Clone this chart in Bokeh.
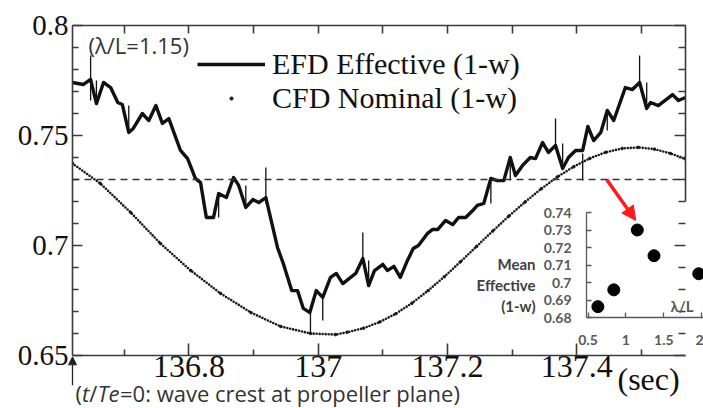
from bokeh.plotting import figure
from bokeh.models import (Range1d, LinearAxis, FixedTicker, Span, Label, Arrow,
                          NormalHead, Legend, LegendItem)
from bokeh.embed import file_html
from bokeh.resources import INLINE

# ---------------- data ----------------
# EFD effective wake fraction (1-w), time in seconds
efd_t = [136.620, 136.637, 136.648, 136.657, 136.668, 136.679, 136.690, 136.697,
         136.707, 136.714, 136.728, 136.738, 136.749, 136.759, 136.769, 136.787,
         136.798, 136.810, 136.818, 136.827, 136.838, 136.846, 136.858, 136.869,
         136.877, 136.888, 136.899, 136.908, 136.919, 136.937, 136.946, 136.959,
         136.968, 136.977, 136.987, 136.997, 137.007, 137.019, 137.028, 137.038,
         137.058, 137.069, 137.078, 137.087, 137.100, 137.107, 137.117, 137.127,
         137.138, 137.147, 137.155, 137.169, 137.177, 137.185, 137.197, 137.208,
         137.217, 137.228, 137.239, 137.246, 137.256, 137.267, 137.277, 137.287,
         137.297, 137.305, 137.316, 137.328, 137.336, 137.347, 137.356, 137.367,
         137.378, 137.387, 137.398, 137.409, 137.417, 137.426, 137.437, 137.447,
         137.457, 137.475, 137.486, 137.497, 137.508, 137.514, 137.526, 137.548,
         137.557, 137.568]
efd_w = [0.7741, 0.7732, 0.7755, 0.7645, 0.7741, 0.7718, 0.7650, 0.7641,
         0.7514, 0.7532, 0.7600, 0.7568, 0.7636, 0.7555, 0.7577, 0.7432,
         0.7395, 0.7305, 0.7286, 0.7127, 0.7127, 0.7236, 0.7218, 0.7309,
         0.7273, 0.7173, 0.7209, 0.7195, 0.7218, 0.6991, 0.6918, 0.6795,
         0.6795, 0.6714, 0.6695, 0.6795, 0.6764, 0.6855, 0.6873, 0.6827,
         0.6873, 0.6941, 0.6818, 0.6886, 0.6914, 0.6886, 0.6905, 0.6855,
         0.6932, 0.6986, 0.7000, 0.7055, 0.7073, 0.7073, 0.7114, 0.7095,
         0.7127, 0.7127, 0.7159, 0.7182, 0.7191, 0.7305, 0.7295, 0.7295,
         0.7400, 0.7318, 0.7364, 0.7400, 0.7395, 0.7468, 0.7423, 0.7455,
         0.7350, 0.7400, 0.7432, 0.7432, 0.7541, 0.7477, 0.7514, 0.7614,
         0.7568, 0.7718, 0.7709, 0.7741, 0.7623, 0.7650, 0.7636, 0.7686,
         0.7659, 0.7673]

# short spikes in the measured signal
spike_t = [136.648, 136.657, 136.707, 136.846, 136.888, 136.919, 136.988, 137.007,
           137.069, 137.078, 137.267, 137.297, 137.367, 137.378, 137.409, 137.447,
           137.497, 137.508]
spike_lo = [0.7659, 0.7645, 0.7514, 0.7127, 0.7173, 0.7191, 0.6600, 0.6659,
            0.6941, 0.6818, 0.7191, 0.7295, 0.7455, 0.7350, 0.7295, 0.7523,
            0.7741, 0.7623]
spike_hi = [0.7864, 0.7750, 0.7636, 0.7236, 0.7273, 0.7355, 0.6695, 0.6764,
            0.7059, 0.6932, 0.7305, 0.7400, 0.7577, 0.7464, 0.7418, 0.7614,
            0.7864, 0.7741]

# CFD nominal wake fraction (1-w)
cfd_t = [136.620, 136.663, 136.710, 136.756, 136.803, 136.849, 136.896, 136.942,
         136.988, 137.027, 137.045, 137.070, 137.095, 137.120, 137.145, 137.170,
         137.195, 137.220, 137.245, 137.270, 137.295, 137.320, 137.345, 137.370,
         137.395, 137.420, 137.445, 137.470, 137.495, 137.520, 137.545, 137.568]
cfd_w = [0.7373, 0.7282, 0.7150, 0.7009, 0.6886, 0.6782, 0.6695, 0.6632,
         0.6600, 0.6595, 0.6606, 0.6624, 0.6652, 0.6690, 0.6738, 0.6795,
         0.6858, 0.6926, 0.6996, 0.7066, 0.7134, 0.7198, 0.7258, 0.7312,
         0.7358, 0.7396, 0.7424, 0.7441, 0.7446, 0.7438, 0.7418, 0.7393]

# mean effective (1-w) at lambda/L = 1.15
mean_level = 0.73

# inset: mean effective (1-w) against wave length ratio
wave_ratio = [0.63, 0.84, 1.15, 1.37, 1.96]
mean_eff = [0.6862, 0.6958, 0.7300, 0.7153, 0.7050]

x_ticks = [136.8, 137.0, 137.2, 137.4]
x_tick_labels = ["136.8", "137", "137.2", "137.4"]
x_minor = [136.7, 136.9, 137.1, 137.3, 137.5]
y_ticks = [0.65, 0.70, 0.75, 0.80]
y_tick_labels = ["0.65", "0.7", "0.75", "0.8"]
y_minor = [0.66, 0.67, 0.68, 0.69, 0.71, 0.72, 0.73, 0.74, 0.76, 0.77, 0.78, 0.79]

inset_x_ticks = [0.5, 1.0, 1.5, 2.0]
inset_x_labels = ["0.5", "1", "1.5", "2"]
inset_y_ticks = [0.68, 0.69, 0.70, 0.71, 0.72, 0.73, 0.74]
inset_y_labels = ["0.68", "0.69", "0.7", "0.71", "0.72", "0.73", "0.74"]

AXIS = "#3a3a3a"
INK = "#111111"
GREY = "#595959"
SERIF = "Liberation Serif"
SANS = "Open Sans"

W, H = 703, 408
LEFT, RIGHT, TOP, BOTTOM = 72, 18, 25, 53
T0, T1 = 136.62, 137.568
V0, V1 = 0.65, 0.80


def style_axis(ax, major_in, minor_in, color=AXIS, width=1.6):
    ax.axis_line_color = color
    ax.axis_line_width = width
    ax.major_tick_line_color = color
    ax.minor_tick_line_color = color
    ax.major_tick_line_width = width
    ax.minor_tick_line_width = width
    ax.major_tick_in = major_in
    ax.major_tick_out = 0
    ax.minor_tick_in = minor_in
    ax.minor_tick_out = 0


def hide_labels(ax):
    # tick marks only, no tick labels drawn
    ax.major_label_text_font_size = "0px"
    ax.major_label_text_color = None
    ax.major_label_standoff = 0


def pin(fig, left, top):
    fig.styles = {"position": "absolute", "left": f"{left}px", "top": f"{top}px"}


# ---------------- main chart ----------------
p = figure(width=W, height=H, title=None,
           x_range=Range1d(T0, T1), y_range=Range1d(V0, V1),
           x_axis_location=None, y_axis_location=None,
           min_border_left=LEFT, min_border_right=RIGHT,
           min_border_top=TOP, min_border_bottom=BOTTOM,
           output_backend="svg", toolbar_location=None)
p.outline_line_color = None
p.grid.visible = False
p.background_fill_color = "white"
p.border_fill_color = "white"

xb = LinearAxis(ticker=FixedTicker(ticks=x_ticks, minor_ticks=x_minor))
xb.major_label_overrides = dict(zip(x_ticks, x_tick_labels))
xb.major_label_text_font = SERIF
xb.major_label_text_font_size = "32px"
xb.major_label_text_color = INK
xb.major_label_standoff = 0
style_axis(xb, 12, 6)
p.add_layout(xb, "below")

xt = LinearAxis(ticker=FixedTicker(ticks=x_ticks, minor_ticks=x_minor))
hide_labels(xt)
style_axis(xt, 8, 8)
p.add_layout(xt, "above")

yl = LinearAxis(ticker=FixedTicker(ticks=y_ticks, minor_ticks=y_minor))
yl.major_label_overrides = dict(zip(y_ticks, y_tick_labels))
yl.major_label_text_font = SERIF
yl.major_label_text_font_size = "29px"
yl.major_label_text_color = INK
yl.major_label_standoff = 4
style_axis(yl, 10, 6)
p.add_layout(yl, "left")

yr = LinearAxis(ticker=FixedTicker(ticks=y_ticks, minor_ticks=y_minor), bounds=(0.72, V1))
hide_labels(yr)
style_axis(yr, 11, 7)
p.add_layout(yr, "right")

# reference level of the mean effective wake
p.add_layout(Span(location=mean_level, dimension="width", line_color="#333333",
                  line_width=1.5, line_dash="7 5"))

cfd_line = p.line(cfd_t, cfd_w, line_color="#1a1a1a", line_width=2.6,
                  line_dash="0 3", line_cap="round")
cfd_pts = p.scatter(cfd_t, cfd_w, size=2.6, color="#1a1a1a")
p.segment(x0=spike_t, y0=spike_lo, x1=spike_t, y1=spike_hi,
          line_color=INK, line_width=1.3)
efd = p.line(efd_t, efd_w, line_color=INK, line_width=3.4, line_join="round")

legend = Legend(items=[LegendItem(label="EFD Effective (1-w)", renderers=[efd]),
                       LegendItem(label="CFD Nominal (1-w)", renderers=[cfd_pts])],
                location=(125, 240), glyph_width=68, glyph_height=8, label_standoff=7,
                spacing=0, padding=0, margin=0, border_line_color=None,
                background_fill_alpha=0, label_text_font=SERIF,
                label_text_font_size="30px", label_text_color=INK)
p.add_layout(legend)

p.add_layout(Label(x=16, y=311, x_units="screen", y_units="screen", text="(λ/L=1.15)",
                   text_font=SANS, text_font_size="22px", text_color="#333333",
                   text_baseline="middle"))

# red pointer from the mean level to the matching inset point
p.add_layout(Arrow(end=NormalHead(size=14, fill_color="#ff1a1a", line_color="#ff1a1a"),
                   x_start=137.446, y_start=mean_level, x_end=137.491, y_end=0.7114,
                   line_color="#ff1a1a", line_width=3.5))

# ---------------- overlay for texts around the frame ----------------
# same data mapping as the main chart, but the frame spans the whole canvas
px_per_t = (W - LEFT - RIGHT) / (T1 - T0)
px_per_v = (H - TOP - BOTTOM) / (V1 - V0)
ann = figure(width=W, height=H, title=None, min_border=0,
             x_range=Range1d(T0 - LEFT / px_per_t, T1 + RIGHT / px_per_t),
             y_range=Range1d(V0 - BOTTOM / px_per_v, V1 + TOP / px_per_v),
             x_axis_location=None, y_axis_location=None,
             output_backend="svg", toolbar_location=None)
ann.background_fill_color = None
ann.border_fill_color = None
ann.outline_line_color = None
ann.grid.visible = False

# origin marker t/Te = 0
ann.add_layout(Arrow(end=NormalHead(size=8, fill_color="#222222", line_color="#222222"),
                     x_start=T0, y_start=0.6365, x_end=T0, y_end=0.6494,
                     line_color="#222222", line_width=1.3))

caption = [("(", 75, "normal"), ("t", 81.5, "italic"), ("/", 88.8, "normal"),
           ("Te", 97, "italic"), ("=0: wave crest at propeller plane)", 119.5, "normal")]
for txt, cx, st in caption:
    ann.add_layout(Label(x=cx, y=16, x_units="screen", y_units="screen", text=txt,
                         text_font=SANS, text_font_size="22px", text_font_style=st,
                         text_color="#333333", text_baseline="middle"))

ann.add_layout(Label(x=617, y=30, x_units="screen", y_units="screen", text="(sec)",
                     text_font=SERIF, text_font_size="32px", text_color=INK,
                     text_baseline="alphabetic"))

for txt, cy in [("Mean", 145), ("Effective", 124), ("(1-w)", 103)]:
    ann.add_layout(Label(x=535, y=cy, x_units="screen", y_units="screen", text=txt,
                         text_font="Lato", text_font_style="bold", text_font_size="15px",
                         text_color="#404040", text_align="right", text_baseline="middle"))

# ---------------- inset ----------------
q = figure(frame_width=117, frame_height=105, title=None,
           x_range=Range1d(0.48, 2.023), y_range=Range1d(0.68, 0.74),
           x_axis_location=None, y_axis_location=None,
           min_border_left=116, min_border_right=0, min_border_top=17, min_border_bottom=38,
           output_backend="svg", toolbar_location=None)
q.background_fill_color = None
q.border_fill_color = None
q.outline_line_color = None
q.grid.visible = False

qx = LinearAxis(ticker=FixedTicker(ticks=inset_x_ticks, minor_ticks=[]))
qx.major_label_overrides = dict(zip(inset_x_ticks, inset_x_labels))
qx.major_label_text_font = "Lato"
qx.major_label_text_font_style = "bold"
qx.major_label_text_font_size = "14px"
qx.major_label_text_color = GREY
qx.major_label_standoff = 17
style_axis(qx, 5, 0, color=GREY, width=1.3)
q.add_layout(qx, "below")

qy = LinearAxis(ticker=FixedTicker(ticks=inset_y_ticks, minor_ticks=[]))
qy.major_label_overrides = dict(zip(inset_y_ticks, inset_y_labels))
qy.major_label_text_font = "Lato"
qy.major_label_text_font_style = "bold"
qy.major_label_text_font_size = "14px"
qy.major_label_text_color = GREY
qy.major_label_standoff = 15
style_axis(qy, 5, 0, color=GREY, width=1.3)
q.add_layout(qy, "left")

q.scatter(wave_ratio, mean_eff, size=12, color="black")

q.add_layout(Label(x=84, y=12, x_units="screen", y_units="screen", text="λ/L",
                   text_font="Lato", text_font_style="bold", text_font_size="15px",
                   text_color=GREY, text_baseline="middle"))

# three independent canvases stacked: chart, surrounding texts, inset
pin(p, 0, 0)
pin(ann, 0, 0)
pin(q, 470, 195)
open("out.html", "w").write(file_html([p, ann, q], INLINE))
